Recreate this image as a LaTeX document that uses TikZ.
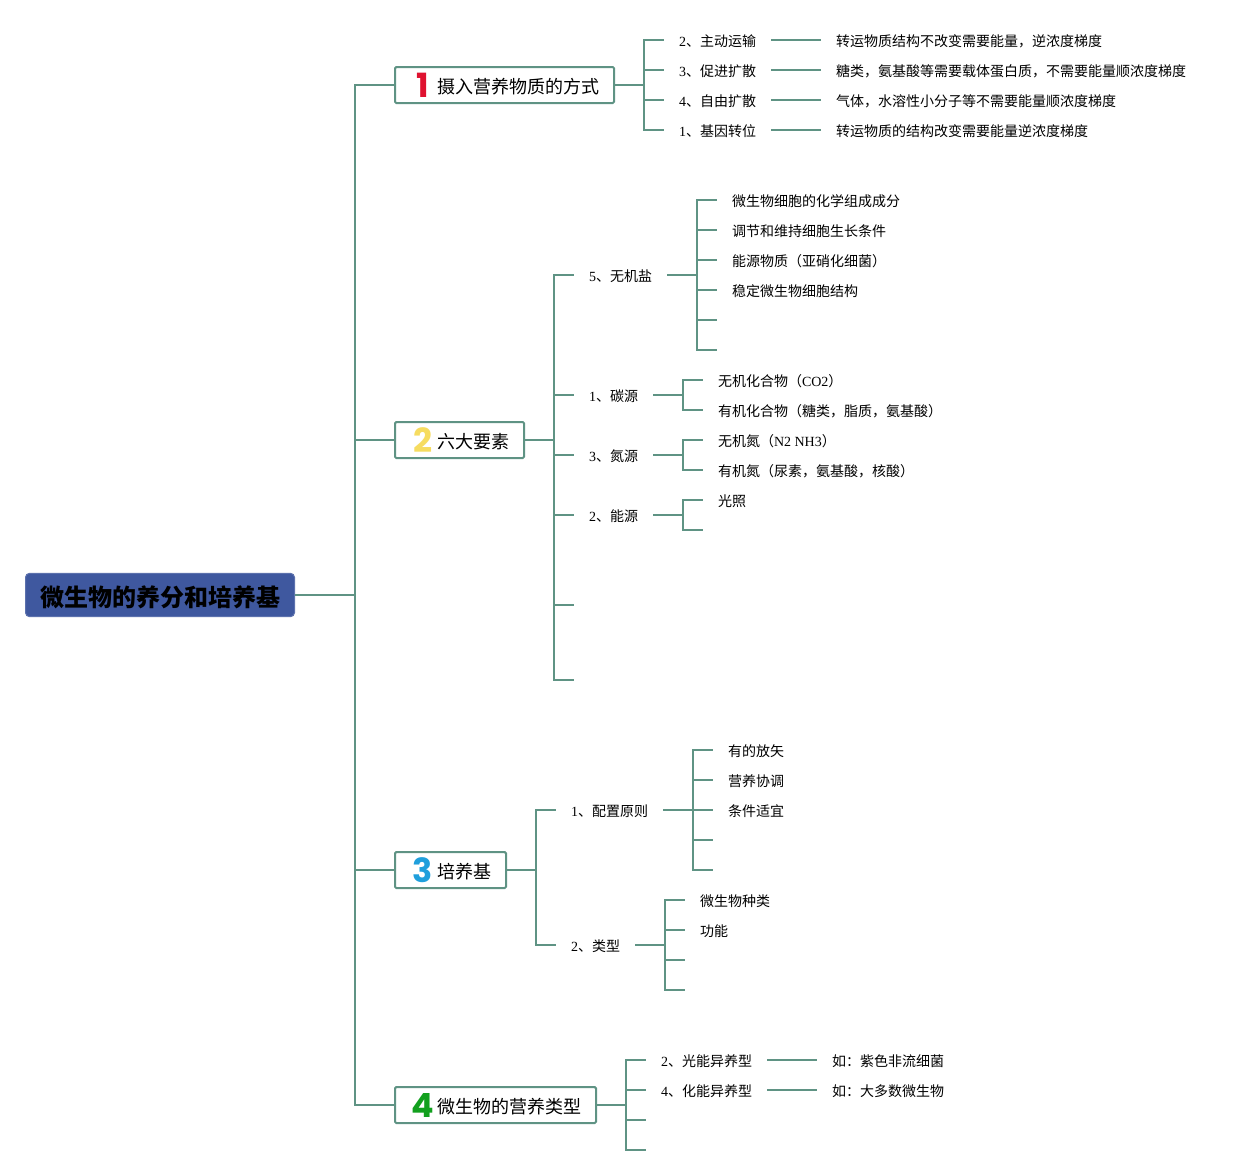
\documentclass[tikz,border=0pt]{standalone}
\usepackage{xcolor}
\usepackage{fontspec}
\setmainfont{Liberation Serif}
\newfontfamily\cjk{Noto Sans CJK SC}
\newfontfamily\digitfont{Poppins}
\definecolor{branchgreen}{HTML}{5F9384}
\definecolor{rootblue}{HTML}{3F589F}
\definecolor{numred}{HTML}{DF1230}
\definecolor{numyellow}{HTML}{F6DC60}
\definecolor{numblue}{HTML}{1F9FDC}
\definecolor{numgreen}{HTML}{12A01E}
\newcommand{\lat}[1]{{\rmfamily #1}}
\newcommand{\bignum}[2]{\makebox[18.8pt][c]{\raisebox{-3pt}{\digitfont\bfseries\fontsize{25}{25}\selectfont\textcolor{#1}{#2}}}\hspace{1.45pt}}
\tikzset{
  branch/.style={draw=branchgreen,line width=1.5pt},
  rootbox/.style={draw=rootblue!85!white,fill=rootblue,rounded corners=3pt,line width=0.75pt,minimum width=201.75pt,minimum height=32.5pt,
    inner sep=0pt,outer sep=0pt,font=\cjk\bfseries\fontsize{18}{18}\selectfont,text height=16.7pt,text depth=0pt},
  topic/.style={draw=branchgreen,fill=white,rounded corners=1pt,line width=1.5pt,minimum height=27pt,inner xsep=11.25pt,inner ysep=0pt,
    outer sep=0pt,anchor=west,font=\cjk\fontsize{13.5}{13.5}\selectfont,text height=12.5pt,text depth=0pt},
  leaf/.style={inner xsep=11.25pt,inner ysep=0pt,outer sep=0pt,anchor=west,font=\cjk\fontsize{10.5}{10.5}\selectfont,text height=9.5pt,text depth=0pt},
}
\begin{document}
\begin{tikzpicture}[x=0.75pt,y=-0.75pt]
  \useasboundingbox (0,0) rectangle (1246,1175);
  \node[rootbox] (root) at (160,595) {微生物的养分和培养基};

  \node[topic] (intake) at (395,85) {\bignum{numred}{1}摄入营养物质的方式};
  \node[topic] (sixfactor) at (395,440) {\bignum{numyellow}{2}六大要素};
  \node[topic] (medium) at (395,870) {\bignum{numblue}{3}培养基};
  \node[topic] (nutrition) at (395,1105) {\bignum{numgreen}{4}微生物的营养类型};
  \draw[branch] (root.east) -- ++(60,0) |- (intake.west);
  \draw[branch] (root.east) -- ++(60,0) |- (sixfactor.west);
  \draw[branch] (root.east) -- ++(60,0) |- (medium.west);
  \draw[branch] (root.east) -- ++(60,0) |- (nutrition.west);

  \node[leaf] (active) at (664,40) {\lat{2}、主动运输};
  \node[leaf] (promoted) at (664,70) {\lat{3}、促进扩散};
  \node[leaf] (free) at (664,100) {\lat{4}、自由扩散};
  \node[leaf] (group) at (664,130) {\lat{1}、基因转位};
  \node[leaf] (activenote) at (821,40) {转运物质结构不改变需要能量，逆浓度梯度};
  \node[leaf] (promotednote) at (821,70) {糖类，氨基酸等需要载体蛋白质，不需要能量顺浓度梯度};
  \node[leaf] (freenote) at (821,100) {气体，水溶性小分子等不需要能量顺浓度梯度};
  \node[leaf] (groupnote) at (821,130) {转运物质的结构改变需要能量逆浓度梯度};
  \draw[branch] (intake.east) -- ++(30,0) |- (active.west);
  \draw[branch] (intake.east) -- ++(30,0) |- (promoted.west);
  \draw[branch] (intake.east) -- ++(30,0) |- (free.west);
  \draw[branch] (intake.east) -- ++(30,0) |- (group.west);
  \draw[branch] (active.east) -- (activenote.west);
  \draw[branch] (promoted.east) -- (promotednote.west);
  \draw[branch] (free.east) -- (freenote.west);
  \draw[branch] (group.east) -- (groupnote.west);

  \node[leaf] (salt) at (574,275) {\lat{5}、无机盐};
  \node[leaf] (carbon) at (574,395) {\lat{1}、碳源};
  \node[leaf] (nitrogen) at (574,455) {\lat{3}、氮源};
  \node[leaf] (energy) at (574,515) {\lat{2}、能源};
  \coordinate (sixa) at (574,605);
  \coordinate (sixb) at (574,680);
  \draw[branch] (sixfactor.east) -- ++(30,0) |- (salt.west);
  \draw[branch] (sixfactor.east) -- ++(30,0) |- (carbon.west);
  \draw[branch] (sixfactor.east) -- ++(30,0) |- (nitrogen.west);
  \draw[branch] (sixfactor.east) -- ++(30,0) |- (energy.west);
  \draw[branch] (sixfactor.east) -- ++(30,0) |- (sixa);
  \draw[branch] (sixfactor.east) -- ++(30,0) |- (sixb);

  \node[leaf] (salta) at (717,200) {微生物细胞的化学组成成分};
  \node[leaf] (saltb) at (717,230) {调节和维持细胞生长条件};
  \node[leaf] (saltc) at (717,260) {能源物质（亚硝化细菌）};
  \node[leaf] (saltd) at (717,290) {稳定微生物细胞结构};
  \coordinate (salte) at (717,320);
  \coordinate (saltf) at (717,350);
  \draw[branch] (salt.east) -- ++(30,0) |- (salta.west);
  \draw[branch] (salt.east) -- ++(30,0) |- (saltb.west);
  \draw[branch] (salt.east) -- ++(30,0) |- (saltc.west);
  \draw[branch] (salt.east) -- ++(30,0) |- (saltd.west);
  \draw[branch] (salt.east) -- ++(30,0) |- (salte);
  \draw[branch] (salt.east) -- ++(30,0) |- (saltf);

  \node[leaf] (carbona) at (703,380) {无机化合物（\lat{CO2}）};
  \node[leaf] (carbonb) at (703,410) {有机化合物（糖类，脂质，氨基酸）};
  \node[leaf] (nitrogena) at (703,440) {无机氮（\lat{N2 NH3}）};
  \node[leaf] (nitrogenb) at (703,470) {有机氮（尿素，氨基酸，核酸）};
  \node[leaf] (energya) at (703,500) {光照};
  \coordinate (energyb) at (703,530);
  \draw[branch] (carbon.east) -- ++(30,0) |- (carbona.west);
  \draw[branch] (carbon.east) -- ++(30,0) |- (carbonb.west);
  \draw[branch] (nitrogen.east) -- ++(30,0) |- (nitrogena.west);
  \draw[branch] (nitrogen.east) -- ++(30,0) |- (nitrogenb.west);
  \draw[branch] (energy.east) -- ++(30,0) |- (energya.west);
  \draw[branch] (energy.east) -- ++(30,0) |- (energyb);

  \node[leaf] (rule) at (556,810) {\lat{1}、配置原则};
  \node[leaf] (kind) at (556,945) {\lat{2}、类型};
  \draw[branch] (medium.east) -- ++(30,0) |- (rule.west);
  \draw[branch] (medium.east) -- ++(30,0) |- (kind.west);
  \node[leaf] (rulea) at (713,750) {有的放矢};
  \node[leaf] (ruleb) at (713,780) {营养协调};
  \node[leaf] (rulec) at (713,810) {条件适宜};
  \coordinate (ruled) at (713,840);
  \coordinate (rulee) at (713,870);
  \draw[branch] (rule.east) -- ++(30,0) |- (rulea.west);
  \draw[branch] (rule.east) -- ++(30,0) |- (ruleb.west);
  \draw[branch] (rule.east) -- ++(30,0) |- (rulec.west);
  \draw[branch] (rule.east) -- ++(30,0) |- (ruled);
  \draw[branch] (rule.east) -- ++(30,0) |- (rulee);
  \node[leaf] (kinda) at (685,900) {微生物种类};
  \node[leaf] (kindb) at (685,930) {功能};
  \coordinate (kindc) at (685,960);
  \coordinate (kindd) at (685,990);
  \draw[branch] (kind.east) -- ++(30,0) |- (kinda.west);
  \draw[branch] (kind.east) -- ++(30,0) |- (kindb.west);
  \draw[branch] (kind.east) -- ++(30,0) |- (kindc);
  \draw[branch] (kind.east) -- ++(30,0) |- (kindd);

  \node[leaf] (photo) at (646,1060) {\lat{2}、光能异养型};
  \node[leaf] (chemo) at (646,1090) {\lat{4}、化能异养型};
  \coordinate (nutric) at (646,1120);
  \coordinate (nutrid) at (646,1150);
  \node[leaf] (photonote) at (817,1060) {如：紫色非流细菌};
  \node[leaf] (chemonote) at (817,1090) {如：大多数微生物};
  \draw[branch] (nutrition.east) -- ++(30,0) |- (photo.west);
  \draw[branch] (nutrition.east) -- ++(30,0) |- (chemo.west);
  \draw[branch] (nutrition.east) -- ++(30,0) |- (nutric);
  \draw[branch] (nutrition.east) -- ++(30,0) |- (nutrid);
  \draw[branch] (photo.east) -- (photonote.west);
  \draw[branch] (chemo.east) -- (chemonote.west);
\end{tikzpicture}
\end{document}
